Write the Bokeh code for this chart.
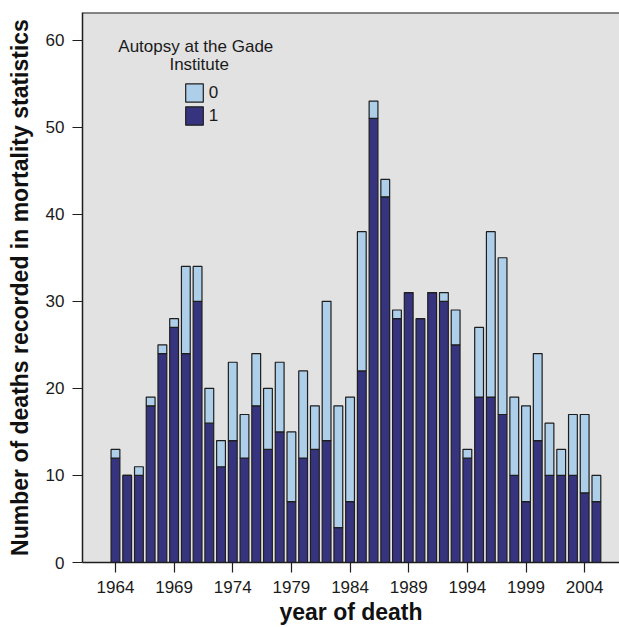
from bokeh.plotting import figure
from bokeh.models import ColumnDataSource, Range1d, FixedTicker, Legend, LegendItem, Label, Span
from bokeh.embed import file_html
from bokeh.resources import INLINE

# ---- data ----
years = list(range(1964, 2006))
autopsy_1 = [12, 10, 10, 18, 24, 27, 24, 30, 16, 11, 14, 12, 18, 13, 15, 7, 12, 13, 14, 4,
             7, 22, 51, 42, 28, 31, 28, 31, 30, 25, 12, 19, 19, 17, 10, 7, 14, 10, 10, 10,
             8, 7]
autopsy_0 = [1, 0, 1, 1, 1, 1, 10, 4, 4, 3, 9, 5, 6, 7, 8, 8, 10, 5, 16, 14,
             12, 16, 2, 2, 1, 0, 0, 0, 1, 4, 1, 8, 19, 18, 9, 11, 10, 6, 3, 7,
             9, 3]
x_ticks = [1964, 1969, 1974, 1979, 1984, 1989, 1994, 1999, 2004]
y_ticks = [0, 10, 20, 30, 40, 50, 60]
legend_title = ["Autopsy at the Gade", "Institute"]
legend_labels = ["0", "1"]

# ---- style ----
DARK = "#37347f"
LIGHT = "#aecfea"
EDGE = "#1e1e1e"
BG = "#e2e2e2"
FONT = "Liberation Sans"
x_start, x_end = 1961.19, 2006.97
y_top = 63.17

src = ColumnDataSource(dict(year=years, a1=autopsy_1, a0=autopsy_0))

p = figure(width=619, height=627, output_backend="svg", toolbar_location=None,
           x_range=Range1d(x_start, x_end), y_range=Range1d(0, y_top),
           min_border_left=82, min_border_right=0, min_border_top=12, min_border_bottom=64)
p.background_fill_color = BG
p.border_fill_color = "white"
p.outline_line_color = None
p.grid.visible = False

r1, r0 = p.vbar_stack(["a1", "a0"], x="year", width=0.75, source=src,
                      fill_color=[DARK, LIGHT], line_color=EDGE, line_width=1.2)

for ax in (p.xaxis[0], p.yaxis[0]):
    ax.axis_line_color = EDGE
    ax.axis_line_width = 1.5
    ax.major_tick_line_color = EDGE
    ax.major_tick_line_width = 1.2
    ax.major_tick_in = 0
    ax.major_tick_out = 10
    ax.minor_tick_line_color = None
    ax.major_label_text_font = FONT
    ax.major_label_text_font_size = "17px"
    ax.major_label_text_color = "#1a1a1a"
    ax.axis_label_text_font = FONT
    ax.axis_label_text_font_size = "23px"
    ax.axis_label_text_font_style = "bold"
    ax.axis_label_text_color = "#111111"

p.xaxis.ticker = FixedTicker(ticks=x_ticks)
p.yaxis.ticker = FixedTicker(ticks=y_ticks)
p.xaxis.axis_label = "year of death"
p.yaxis.axis_label = "Number of deaths recorded in mortality statistics"
p.xaxis.major_label_standoff = 8
p.xaxis.axis_label_standoff = 3
p.yaxis.major_label_standoff = 8
p.yaxis.axis_label_standoff = 10

p.add_layout(Span(location=y_top, dimension="width", line_color=EDGE, line_width=2))

legend = Legend(items=[LegendItem(label=legend_labels[0], renderers=[r0]),
                       LegendItem(label=legend_labels[1], renderers=[r1])],
                location=(100.8, 434.6), glyph_width=22, glyph_height=23,
                spacing=0, padding=0, margin=0, label_standoff=4,
                background_fill_alpha=0, border_line_color=None,
                label_text_font=FONT, label_text_font_size="17px",
                label_text_color="#1a1a1a")
p.add_layout(legend)

p.add_layout(Label(x=113.3, y=516.5, x_units="screen", y_units="screen",
                   text=legend_title[0], text_align="center", text_baseline="alphabetic",
                   text_font=FONT, text_font_size="17px", text_color="#1a1a1a"))
p.add_layout(Label(x=116.7, y=498.0, x_units="screen", y_units="screen",
                   text=legend_title[1], text_align="center", text_baseline="alphabetic",
                   text_font=FONT, text_font_size="17px", text_color="#1a1a1a"))

open("out.html", "w").write(file_html(p, INLINE))
